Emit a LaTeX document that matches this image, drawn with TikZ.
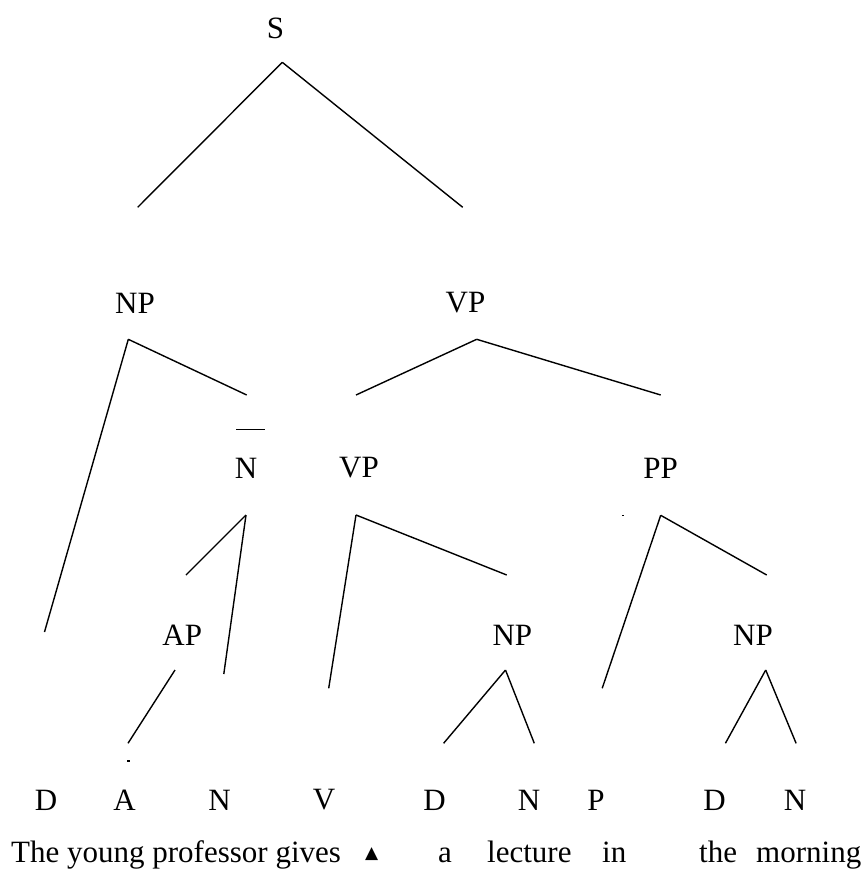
\documentclass[tikz,border=0pt]{standalone}
\usepackage{fontspec}
\setmainfont{Liberation Serif}
\newfontfamily\symfont{DejaVu Sans}
\begin{document}
\begin{tikzpicture}[x=1pt,y=-1pt,
    lbl/.style={inner sep=0pt, font=\fontsize{31}{34}\selectfont},
    word/.style={inner sep=0pt, anchor=base west, font=\fontsize{31}{34}\selectfont},
    branch/.style={line width=1.4pt}]
    \useasboundingbox (0,0) rectangle (867,870);
    % category labels
    \foreach \name/\X/\Y/\T in {s/275.5/28/S, np/135/303/NP, vp/465.5/303/VP,
        nbar/246/468/N, vpb/359/468/VP, pp/660.5/468/PP,
        ap/182.3/635/AP, npb/512.4/635/NP, npc/753/635/NP}
        {
        \node[lbl] (\name) at (\X,\Y) {\T};
        }
    % preterminals
    \foreach \name/\X/\T in {d1/46/D, a1/124.5/A, n1/219.5/N, v1/324/V, d2/434.5/D,
        n2/529/N, p1/596/P, d3/714.5/D, n3/795/N}
        {
        \node[lbl] (\name) at (\X,800) {\T};
        }
    % words
    \node[word] (w1) at (11,862) {The young professor gives};
    \node[word, font=\symfont\fontsize{17}{20}\selectfont] (tri) at (365,858) {▲};
    \node[word] (w2) at (438,862) {a};
    \node[word] (w3) at (487,862) {lecture};
    \node[word] (w4) at (602,862) {in};
    \node[word] (w5) at (699,862) {the};
    \node[word] (w6) at (756,862) {morning};
    % branch points
    \foreach \name/\X/\Y in {sT/282.3/62.3, sL/137.7/207.3, sR/462.7/207.3,
        npT/128.3/339.3, npL/44.5/632, npR/246.7/395,
        vpT/476.7/339.3, vpL/356/395, vpR/660.7/395,
        nT/246/515, nL/186/575, nR/223.8/674,
        vbT/356/515, vbL/328.7/688.3, vbR/506.7/575,
        ppT/660.7/515.3, ppL/602.2/688.3, ppR/766.7/575,
        apT/175/670, apB/128/743.3,
        nbT/505.5/670, nbL/443.6/743.3, nbR/534.3/743.3,
        ncT/765.7/670, ncL/725.4/743.3, ncR/796.1/743.3,
        barL/236/429.3, barR/265/429.3}
        {
        \coordinate (\name) at (\X,\Y);
        }
    % branches
    \foreach \from/\to in {sT/sL, sT/sR, npT/npL, npT/npR, vpT/vpL, vpT/vpR,
        nT/nL, nT/nR, vbT/vbL, vbT/vbR, ppT/ppL, ppT/ppR, apT/apB,
        nbT/nbL, nbT/nbR, ncT/ncL, ncT/ncR, barL/barR}
        {
        \draw[branch] (\from) -- (\to);
        }
    % stray marks
    \fill (621.5,514.5) rectangle (623.5,516.3);
    \fill (126.5,760) rectangle (129.5,761.7);
\end{tikzpicture}
\end{document}
